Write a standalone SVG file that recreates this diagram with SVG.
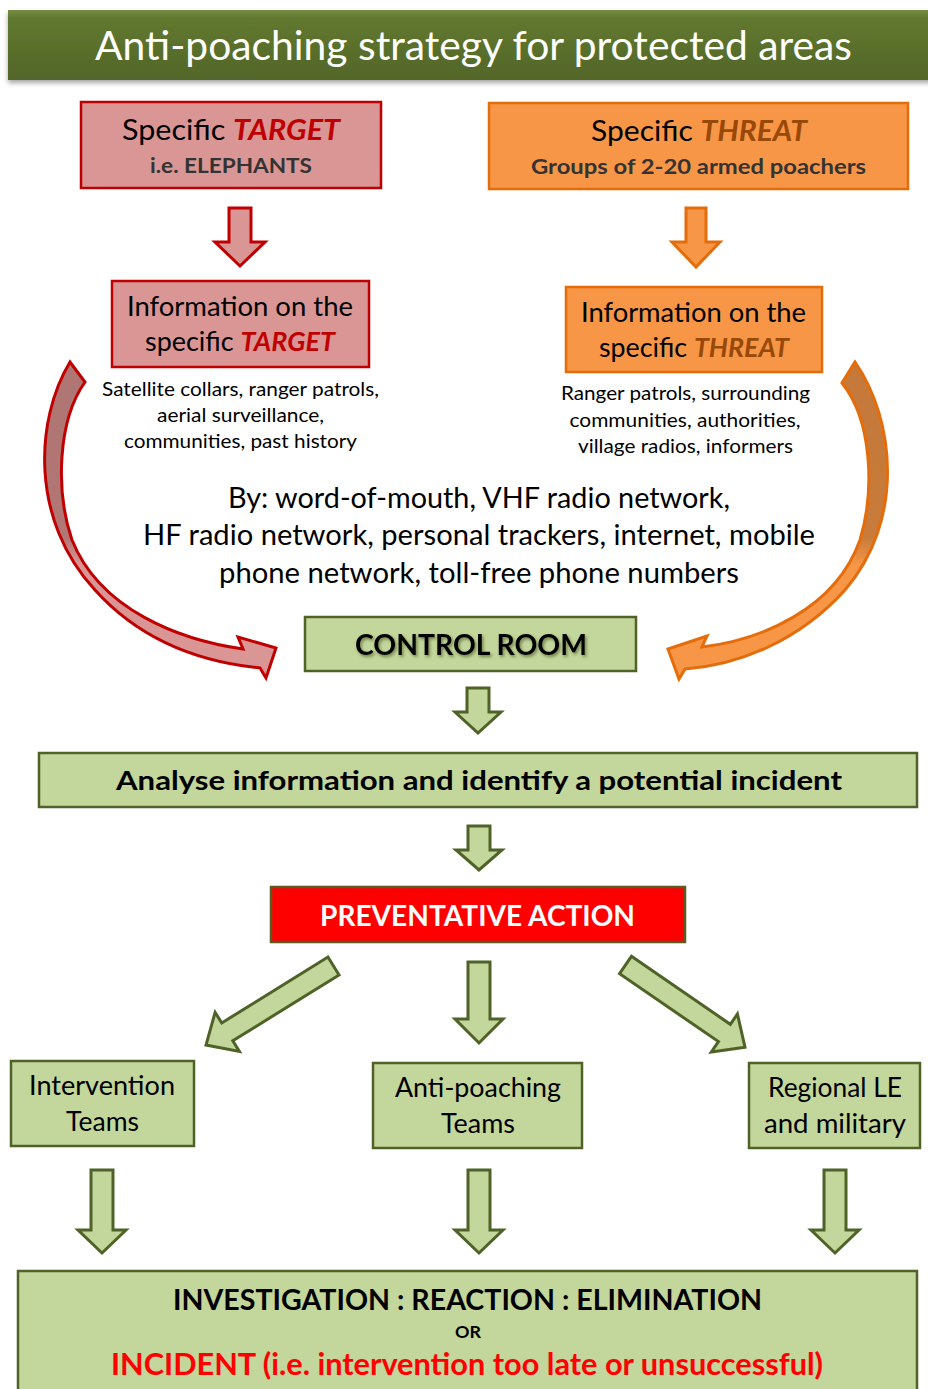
<svg xmlns="http://www.w3.org/2000/svg" width="928" height="1389" viewBox="0 0 928 1389">
<defs>
<linearGradient id="titleGrad" x1="0" y1="0" x2="0" y2="1">
<stop offset="0" stop-color="#778d45"/>
<stop offset="0.12" stop-color="#61782f"/>
<stop offset="1" stop-color="#526628"/>
</linearGradient>
<linearGradient id="redCurve" gradientUnits="userSpaceOnUse" x1="0" y1="362" x2="0" y2="680">
<stop offset="0" stop-color="#b07674"/>
<stop offset="0.55" stop-color="#b27674"/>
<stop offset="0.64" stop-color="#d99694"/>
<stop offset="1" stop-color="#d99694"/>
</linearGradient>
<linearGradient id="orangeCurve" gradientUnits="userSpaceOnUse" x1="0" y1="362" x2="0" y2="680">
<stop offset="0" stop-color="#c4793a"/>
<stop offset="0.55" stop-color="#c87b3a"/>
<stop offset="0.64" stop-color="#f79646"/>
<stop offset="1" stop-color="#f79646"/>
</linearGradient>
<filter id="shadow" x="-5%" y="-20%" width="110%" height="160%">
<feDropShadow dx="0" dy="3" stdDeviation="2.5" flood-color="#000" flood-opacity="0.35"/>
</filter>
<filter id="glow" x="-10%" y="-30%" width="120%" height="160%">
<feDropShadow dx="1.5" dy="2" stdDeviation="1.5" flood-color="#3b4a1a" flood-opacity="0.6"/>
</filter>
<path id="downArrow" d="M-11,0 H11 V34 H24 L0,58 L-24,34 H-11 Z"/>
</defs>
<style>
text{font-family:Lato,"Open Sans","Liberation Sans",sans-serif;text-anchor:middle}
.b{font-weight:bold}
.red{fill:#d99694;stroke:#c00000;stroke-width:2.5}
.org{fill:#f79646;stroke:#e46c0a;stroke-width:2.5}
.grn{fill:#c3d69b;stroke:#4f6228;stroke-width:2.5}
.ga{fill:#c3d69b;stroke:#4f6228;stroke-width:3;stroke-linejoin:miter}
.ra{fill:#d99694;stroke:#c00000;stroke-width:3}
.oa{fill:#f79646;stroke:#e46c0a;stroke-width:3}
</style>
<rect width="928" height="1389" fill="#ffffff"/>

<g id="title">
<rect x="8" y="10" width="930" height="70" fill="url(#titleGrad)" filter="url(#shadow)"/>
<text x="473.5" y="60" font-size="40" fill="#ffffff" textLength="757" lengthAdjust="spacingAndGlyphs">Anti-poaching strategy for protected areas</text>
</g>

<g id="target">
<rect class="red" x="81" y="102" width="300" height="86"/>
<text x="231" y="140" font-size="29" textLength="218" lengthAdjust="spacingAndGlyphs"><tspan fill="#000">Specific </tspan><tspan fill="#c00000" font-weight="bold" font-style="italic">TARGET</tspan></text>
<text class="b" x="231" y="173" font-size="21" fill="#333333" textLength="162" lengthAdjust="spacingAndGlyphs">i.e. ELEPHANTS</text>
</g>

<g id="threat">
<rect class="org" x="489" y="103" width="419" height="86"/>
<text x="699" y="141" font-size="29" textLength="216" lengthAdjust="spacingAndGlyphs"><tspan fill="#000">Specific </tspan><tspan fill="#984807" font-weight="bold" font-style="italic">THREAT</tspan></text>
<text class="b" x="698.5" y="174" font-size="21" fill="#333333" textLength="335" lengthAdjust="spacingAndGlyphs">Groups of 2-20 armed poachers</text>
</g>

<g id="info-target">
<rect class="red" x="112" y="281" width="257" height="86"/>
<text x="240" y="316" font-size="26" fill="#000" textLength="226" lengthAdjust="spacingAndGlyphs">Information on the</text>
<text x="240" y="351" font-size="26" textLength="190" lengthAdjust="spacingAndGlyphs"><tspan fill="#000">specific </tspan><tspan fill="#c00000" font-weight="bold" font-style="italic">TARGET</tspan></text>
<text x="240.5" y="396" font-size="19" fill="#000" textLength="277" lengthAdjust="spacingAndGlyphs">Satellite collars, ranger patrols,</text>
<text x="240.5" y="422" font-size="19" fill="#000" textLength="167" lengthAdjust="spacingAndGlyphs">aerial surveillance,</text>
<text x="240.5" y="448" font-size="19" fill="#000" textLength="233" lengthAdjust="spacingAndGlyphs">communities, past history</text>
</g>

<g id="info-threat">
<rect class="org" x="566" y="287" width="256" height="85"/>
<text x="693.5" y="322" font-size="26" fill="#000" textLength="225" lengthAdjust="spacingAndGlyphs">Information on the</text>
<text x="694" y="357" font-size="26" textLength="190" lengthAdjust="spacingAndGlyphs"><tspan fill="#000">specific </tspan><tspan fill="#984807" font-weight="bold" font-style="italic">THREAT</tspan></text>
<text x="685.5" y="400" font-size="19" fill="#000" textLength="249" lengthAdjust="spacingAndGlyphs">Ranger patrols, surrounding</text>
<text x="685" y="427" font-size="19" fill="#000" textLength="231" lengthAdjust="spacingAndGlyphs">communities, authorities,</text>
<text x="685.5" y="453" font-size="19" fill="#000" textLength="215" lengthAdjust="spacingAndGlyphs">village radios, informers</text>
</g>

<g id="channels">
<text x="479" y="508" font-size="28" fill="#000" textLength="502" lengthAdjust="spacingAndGlyphs">By: word-of-mouth, VHF radio network,</text>
<text x="479" y="545" font-size="28" fill="#000" textLength="672" lengthAdjust="spacingAndGlyphs">HF radio network, personal trackers, internet, mobile</text>
<text x="479" y="583" font-size="28" fill="#000" textLength="520" lengthAdjust="spacingAndGlyphs">phone network, toll-free phone numbers</text>
</g>

<g id="control-room">
<rect class="grn" x="305" y="617" width="331" height="54"/>
<text class="b" x="471" y="655" font-size="29" fill="#000" filter="url(#glow)" textLength="232" lengthAdjust="spacingAndGlyphs">CONTROL ROOM</text>
</g>

<g id="analyse">
<rect class="grn" x="39" y="753" width="878" height="54"/>
<text class="b" x="479" y="790" font-size="27" fill="#000" textLength="726" lengthAdjust="spacingAndGlyphs">Analyse information and identify a potential incident</text>
</g>

<g id="preventative">
<rect x="271" y="887" width="414" height="55" fill="#ff0000" stroke="#5a5a22" stroke-width="2.5"/>
<text class="b" x="477.5" y="926" font-size="28" fill="#ffffff" textLength="315" lengthAdjust="spacingAndGlyphs">PREVENTATIVE ACTION</text>
</g>

<g id="intervention">
<rect class="grn" x="11" y="1061" width="183" height="85"/>
<text x="102" y="1095" font-size="26" fill="#000" textLength="146" lengthAdjust="spacingAndGlyphs">Intervention</text>
<text x="102.5" y="1131" font-size="26" fill="#000" textLength="73" lengthAdjust="spacingAndGlyphs">Teams</text>
</g>

<g id="antipoaching">
<rect class="grn" x="373" y="1063" width="209" height="85"/>
<text x="478" y="1097" font-size="26" fill="#000" textLength="166" lengthAdjust="spacingAndGlyphs">Anti-poaching</text>
<text x="478" y="1133" font-size="26" fill="#000" textLength="74" lengthAdjust="spacingAndGlyphs">Teams</text>
</g>

<g id="regional">
<rect class="grn" x="749" y="1063" width="171" height="85"/>
<text x="835" y="1097" font-size="26" fill="#000" textLength="134" lengthAdjust="spacingAndGlyphs">Regional LE</text>
<text x="835" y="1133" font-size="26" fill="#000" textLength="142" lengthAdjust="spacingAndGlyphs">and military</text>
</g>

<g id="outcome">
<rect class="grn" x="18" y="1271" width="899" height="140"/>
<text class="b" x="467.5" y="1310" font-size="28" fill="#000" textLength="589" lengthAdjust="spacingAndGlyphs">INVESTIGATION : REACTION : ELIMINATION</text>
<text class="b" x="468" y="1338" font-size="17" fill="#000" textLength="26" lengthAdjust="spacingAndGlyphs">OR</text>
<text class="b" x="467" y="1375" font-size="30" fill="#ff0000" textLength="712" lengthAdjust="spacingAndGlyphs">INCIDENT (i.e. intervention too late or unsuccessful)</text>
</g>

<g id="connectors">
<path class="ra" d="M229,208 H251 V242 H265 L240,266 L215,242 H229 Z"/>
<path class="oa" d="M686,208 H706 V242 H720 L696,267 L672,242 H686 Z"/>
<path fill="url(#redCurve)" stroke="#c00000" stroke-width="3" stroke-linejoin="miter" d="M70,362 C35,420 30,520 95,590 C140,640 200,662 260,668 L266,678 L276,648 L238,637 L243,649 C180,640 100,610 72,540 C55,490 58,420 85,382 Z"/>
<path fill="url(#orangeCurve)" stroke="#e46c0a" stroke-width="3" stroke-linejoin="miter" d="M855,362 C895,420 905,520 845,590 C800,640 740,665 685,669 L679,679 L668,649 L707,636 L702,647 C760,640 835,610 860,540 C875,490 872,420 842,383 Z"/>
<path class="ga" d="M467,688 H489 V712 H501 L478,733 L455,712 H467 Z"/>
<path class="ga" d="M468,826 H490 V850 H502 L479,870 L456,850 H468 Z"/>
<path class="ga" d="M468,962 H490 V1019 H503 L479,1043 L455,1019 H468 Z"/>
<path class="ga" transform="translate(333.5,966) rotate(148.2)" d="M0,-10.5 H125 V-23 L150,0 L125,23 V10.5 H0 Z"/>
<path class="ga" transform="translate(625.5,965) rotate(34.5)" d="M0,-10.5 H120 V-23 L145,0 L120,23 V10.5 H0 Z"/>
<path class="ga" d="M91,1170 H113 V1230 H126 L102,1253 L78,1230 H91 Z"/>
<path class="ga" d="M468,1170 H490 V1230 H503 L479,1253 L455,1230 H468 Z"/>
<path class="ga" d="M824,1170 H846 V1230 H859 L835,1253 L811,1230 H824 Z"/>
</g>
</svg>
